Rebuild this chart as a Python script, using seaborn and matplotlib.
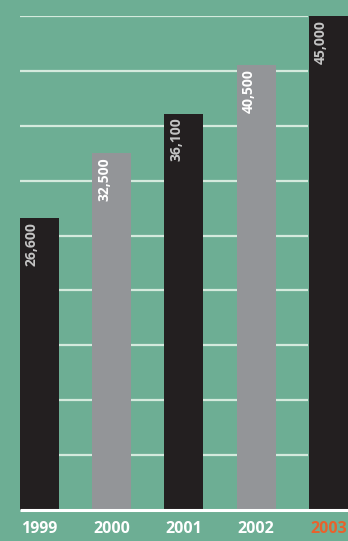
import matplotlib
matplotlib.use("Agg")
import matplotlib.pyplot as plt
import seaborn as sns
import pandas as pd

years = ["1999", "2000", "2001", "2002", "2003"]
values = [26600, 32500, 36100, 40500, 45000]
labels = ["26,600", "32,500", "36,100", "40,500", "45,000"]
bar_colors = ["#231F20", "#939598", "#231F20", "#939598", "#231F20"]
label_colors = ["#C4C4C4", "#FFFFFF", "#C4C4C4", "#FFFFFF", "#C4C4C4"]
tick_colors = ["#FFFFFF", "#FFFFFF", "#FFFFFF", "#FFFFFF", "#E8622D"]
grid_values = [5000, 10000, 15000, 20000, 25000, 30000, 35000, 40000, 45000]

sns.set_theme(style="white")
plt.rcParams["font.family"] = ["Open Sans", "DejaVu Sans"]

BG = "#6DAE94"
fig = plt.figure(figsize=(3.48, 5.41), dpi=100, facecolor=BG)
ax = fig.add_axes([0, 31 / 541, 1, 494 / 541])
ax.set_facecolor(BG)

df = pd.DataFrame({"year": years, "value": values})
sns.barplot(data=df, x="year", y="value", hue="year", palette=bar_colors,
            width=0.54, legend=False, ax=ax, zorder=3, saturation=1,
            linewidth=0, edgecolor="none")

ax.set_xlim(-0.547, 4.273)
ax.set_ylim(0, 45000)

# gridlines
ax.hlines(grid_values, -0.27, 3.72, colors="#D4EADD", linewidth=1.6, zorder=1)
# baseline
ax.hlines([0], -0.27, 4.4, colors="#FFFFFF", linewidth=2.2, zorder=4, clip_on=False)

for i, (v, lab, c) in enumerate(zip(values, labels, label_colors)):
    ax.text(i - 0.105, v - 350, lab, rotation=90, ha="center", va="top",
            color=c, fontsize=10, fontweight="bold", zorder=5)

ax.set_xticks(range(len(years)))
ax.set_xticklabels(years, fontsize=11.5, fontweight="bold")
for t, c in zip(ax.get_xticklabels(), tick_colors):
    t.set_color(c)
ax.tick_params(axis="x", length=0, pad=8)
ax.set_yticks([])
ax.set_xlabel("")
ax.set_ylabel("")
for s in ax.spines.values():
    s.set_visible(False)

fig.savefig("out.png", dpi=100, facecolor=BG)
